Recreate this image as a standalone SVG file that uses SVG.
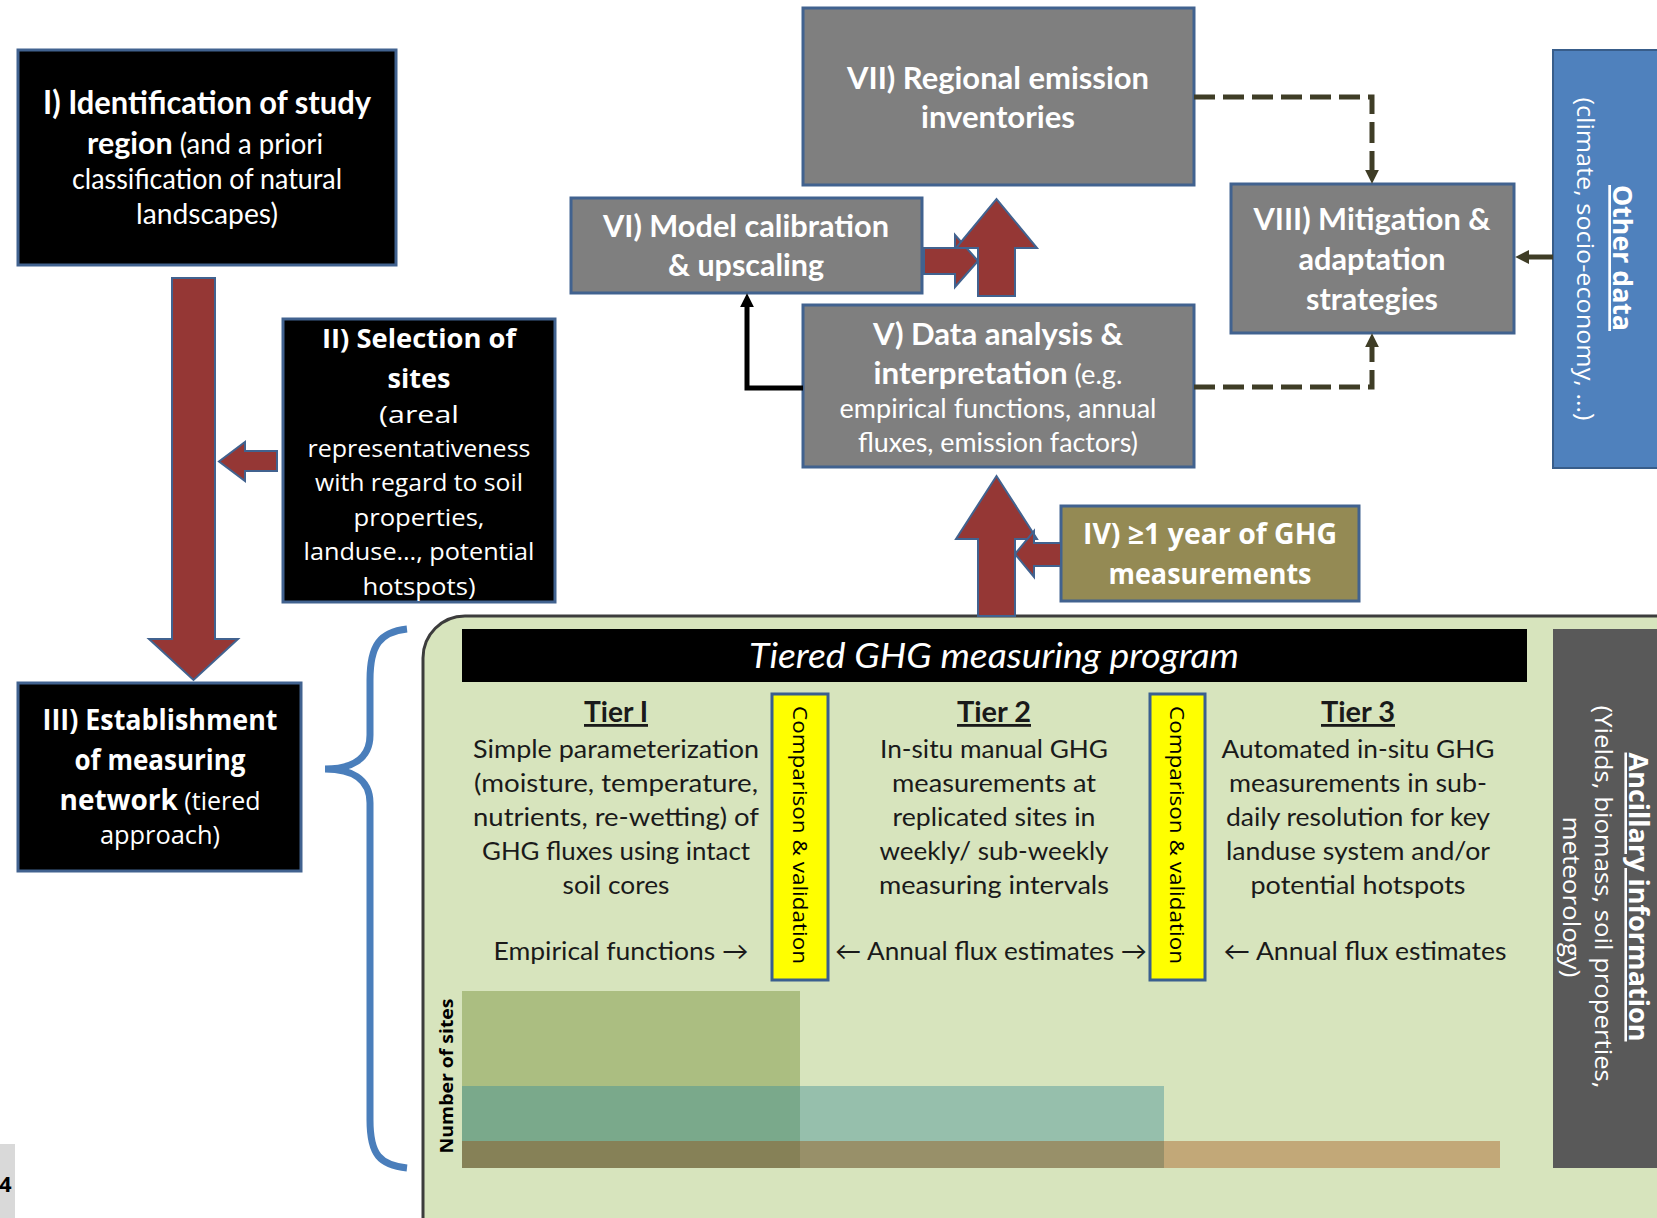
<svg xmlns="http://www.w3.org/2000/svg" width="1657" height="1218" viewBox="0 0 1657 1218">
<defs>
<style>
.cal{font-family:Lato,"Liberation Sans",sans-serif}
.os{font-family:"Open Sans","Liberation Sans",sans-serif}
.b{font-weight:bold}
.w{fill:#ffffff}
.k{fill:#1a1a1a}
.mid{text-anchor:middle}
.blk{fill:#000000;stroke:#41628f;stroke-width:3}
.gry{fill:#7f7f7f;stroke:#41628f;stroke-width:3}
.red{fill:#953735;stroke:#41628f;stroke-width:2;stroke-linejoin:miter}
.dash{fill:none;stroke:#3f3d26;stroke-width:5;stroke-dasharray:21 8}
.sol{fill:none;stroke:#3f3d26;stroke-width:5}
.ul{text-decoration:underline}
</style>
<marker id="ah" viewBox="0 0 10 10" refX="3" refY="5" markerWidth="14" markerHeight="14" markerUnits="userSpaceOnUse" orient="auto">
<path d="M0,0 L10,5 L0,10 z" fill="#3f3d26"/>
</marker>
<marker id="ahk" viewBox="0 0 10 10" refX="3" refY="5" markerWidth="14" markerHeight="14" markerUnits="userSpaceOnUse" orient="auto">
<path d="M0,0 L10,5 L0,10 z" fill="#000000"/>
</marker>
</defs>
<rect x="0" y="0" width="1657" height="1218" fill="#ffffff"/>

<!-- page number tab -->
<g id="page-tab">
<rect x="0" y="1144" width="15" height="74" fill="#d9d9d9"/>
<text x="-1" y="1192" class="os b" font-size="22" fill="#000">4</text>
</g>

<!-- tiered program panel -->
<g id="tiered-program">
<rect x="423" y="616" width="1300" height="700" rx="42" fill="#d7e4bd" stroke="#3c3c3c" stroke-width="3"/>
<rect x="462" y="629" width="1065" height="53" fill="#000000"/>
<text x="994" y="668" class="cal w mid" font-size="34" font-style="italic" textLength="490" lengthAdjust="spacingAndGlyphs">Tiered GHG measuring program</text>
</g>

<g id="bars">
<rect x="462" y="991" width="338" height="95" fill="#abbe81"/>
<rect x="462" y="1086" width="338" height="55" fill="#7aa98b"/>
<rect x="800" y="1086" width="364" height="55" fill="#96bfac"/>
<rect x="462" y="1141" width="338" height="27" fill="#868157"/>
<rect x="800" y="1141" width="364" height="27" fill="#989069"/>
<rect x="1164" y="1141" width="336" height="27" fill="#c2a878"/>
<text transform="translate(453,1076) rotate(-90)" class="os b mid" font-size="17" fill="#000" textLength="155" lengthAdjust="spacingAndGlyphs">Number of sites</text>
</g>

<g id="tier1">
<text x="616" y="722" class="cal b k mid ul" font-size="28" textLength="64" lengthAdjust="spacingAndGlyphs">Tier I</text>
<text x="616" y="758" class="cal k mid" font-size="25" textLength="286" lengthAdjust="spacingAndGlyphs">Simple parameterization</text>
<text x="616" y="792" class="cal k mid" font-size="25" textLength="284" lengthAdjust="spacingAndGlyphs">(moisture, temperature,</text>
<text x="616" y="826" class="cal k mid" font-size="25" textLength="286" lengthAdjust="spacingAndGlyphs">nutrients, re-wetting)  of</text>
<text x="616" y="860" class="cal k mid" font-size="25" textLength="268" lengthAdjust="spacingAndGlyphs">GHG fluxes using intact</text>
<text x="616" y="894" class="cal k mid" font-size="25" textLength="107" lengthAdjust="spacingAndGlyphs">soil cores</text>
<text x="621" y="960" class="cal k mid" font-size="25" textLength="255" lengthAdjust="spacingAndGlyphs">Empirical functions →</text>
</g>

<g id="tier2">
<text x="994" y="722" class="cal b k mid ul" font-size="28" textLength="74" lengthAdjust="spacingAndGlyphs">Tier 2</text>
<text x="994" y="758" class="cal k mid" font-size="25" textLength="228" lengthAdjust="spacingAndGlyphs">In-situ manual GHG</text>
<text x="994" y="792" class="cal k mid" font-size="25" textLength="204" lengthAdjust="spacingAndGlyphs">measurements at</text>
<text x="994" y="826" class="cal k mid" font-size="25" textLength="203" lengthAdjust="spacingAndGlyphs">replicated sites in</text>
<text x="994" y="860" class="cal k mid" font-size="25" textLength="229" lengthAdjust="spacingAndGlyphs">weekly/ sub-weekly</text>
<text x="994" y="894" class="cal k mid" font-size="25" textLength="230" lengthAdjust="spacingAndGlyphs">measuring intervals</text>
<text x="991" y="960" class="cal k mid" font-size="25" textLength="312" lengthAdjust="spacingAndGlyphs">← Annual flux estimates →</text>
</g>

<g id="tier3">
<text x="1358" y="722" class="cal b k mid ul" font-size="28" textLength="74" lengthAdjust="spacingAndGlyphs">Tier 3</text>
<text x="1358" y="758" class="cal k mid" font-size="25" textLength="273" lengthAdjust="spacingAndGlyphs">Automated in-situ GHG</text>
<text x="1358" y="792" class="cal k mid" font-size="25" textLength="258" lengthAdjust="spacingAndGlyphs">measurements in sub-</text>
<text x="1358" y="826" class="cal k mid" font-size="25" textLength="264" lengthAdjust="spacingAndGlyphs">daily resolution for key</text>
<text x="1358" y="860" class="cal k mid" font-size="25" textLength="264" lengthAdjust="spacingAndGlyphs">landuse system and/or</text>
<text x="1358" y="894" class="cal k mid" font-size="25" textLength="215" lengthAdjust="spacingAndGlyphs">potential hotspots</text>
<text x="1365" y="960" class="cal k mid" font-size="25" textLength="283" lengthAdjust="spacingAndGlyphs">← Annual flux estimates</text>
</g>

<g id="comparison-1">
<rect x="772" y="694" width="56" height="286" fill="#ffff00" stroke="#3a5f8f" stroke-width="3"/>
<text transform="translate(793,835) rotate(90)" class="os mid" font-size="20" fill="#000" textLength="258" lengthAdjust="spacingAndGlyphs">Comparison &amp; validation</text>
</g>
<g id="comparison-2">
<rect x="1150" y="694" width="55" height="286" fill="#ffff00" stroke="#3a5f8f" stroke-width="3"/>
<text transform="translate(1170,835) rotate(90)" class="os mid" font-size="20" fill="#000" textLength="258" lengthAdjust="spacingAndGlyphs">Comparison &amp; validation</text>
</g>

<g id="ancillary">
<rect x="1553" y="629" width="120" height="539" fill="#595959"/>
<text transform="translate(1629,897) rotate(90)" class="os b w mid ul" font-size="26" textLength="289" lengthAdjust="spacingAndGlyphs">Ancillary information</text>
<text transform="translate(1595,897) rotate(90)" class="os w mid" font-size="24" textLength="383" lengthAdjust="spacingAndGlyphs">(Yields, biomass, soil properties,</text>
<text transform="translate(1563,897) rotate(90)" class="os w mid" font-size="24" textLength="161" lengthAdjust="spacingAndGlyphs">meteorology)</text>
</g>

<g id="other-data">
<rect x="1553" y="50" width="120" height="418" fill="#4f81bd" stroke="#385d8a" stroke-width="2"/>
<text transform="translate(1613,258) rotate(90)" class="os b w mid ul" font-size="27" textLength="146" lengthAdjust="spacingAndGlyphs">Other data</text>
<text transform="translate(1577,259) rotate(90)" class="os w mid" font-size="24" textLength="323" lengthAdjust="spacingAndGlyphs">(climate, socio-economy, …)</text>
</g>

<!-- brace -->
<g id="brace">
<path d="M407,629 C380,632 370,645 370,680 L370,735 C370,760 350,769 325,769 C350,769 370,778 370,803 L370,1120 C370,1155 380,1165 407,1168" fill="none" stroke="#4a7ebb" stroke-width="7"/>
</g>

<g id="node-I">
<rect x="18" y="50" width="378" height="215" class="blk"/>
<text x="207" y="114" class="cal b w mid" font-size="32" textLength="328" lengthAdjust="spacingAndGlyphs">I) Identification of study</text>
<text x="205" y="154" class="cal w mid" font-size="28" textLength="236" lengthAdjust="spacingAndGlyphs"><tspan font-weight="bold" font-size="31">region</tspan> (and a priori</text>
<text x="207" y="189" class="cal w mid" font-size="28" textLength="270" lengthAdjust="spacingAndGlyphs">classification of natural</text>
<text x="207" y="224" class="cal w mid" font-size="28" textLength="142" lengthAdjust="spacingAndGlyphs">landscapes)</text>
</g>

<g id="node-II">
<rect x="283" y="319" width="272" height="283" class="blk"/>
<text x="419" y="348" class="os b w mid" font-size="27" textLength="194" lengthAdjust="spacingAndGlyphs">II) Selection of</text>
<text x="419" y="388" class="os b w mid" font-size="27" textLength="63" lengthAdjust="spacingAndGlyphs">sites</text>
<text x="419" y="423" class="os w mid" font-size="24" textLength="80" lengthAdjust="spacingAndGlyphs">(areal</text>
<text x="419" y="457" class="os w mid" font-size="24" textLength="223" lengthAdjust="spacingAndGlyphs">representativeness</text>
<text x="419" y="491" class="os w mid" font-size="24" textLength="208" lengthAdjust="spacingAndGlyphs">with regard to soil</text>
<text x="419" y="526" class="os w mid" font-size="24" textLength="131" lengthAdjust="spacingAndGlyphs">properties,</text>
<text x="419" y="560" class="os w mid" font-size="24" textLength="231" lengthAdjust="spacingAndGlyphs">landuse…, potential</text>
<text x="419" y="595" class="os w mid" font-size="24" textLength="113" lengthAdjust="spacingAndGlyphs">hotspots)</text>
</g>

<g id="node-III">
<rect x="18" y="683" width="283" height="188" class="blk"/>
<text x="160" y="730" class="os b w mid" font-size="28" textLength="235" lengthAdjust="spacingAndGlyphs">III) Establishment</text>
<text x="160" y="770" class="os b w mid" font-size="28" textLength="171" lengthAdjust="spacingAndGlyphs">of measuring</text>
<text x="160" y="810" class="os w mid" font-size="25" textLength="201" lengthAdjust="spacingAndGlyphs"><tspan font-weight="bold" font-size="28">network</tspan> (tiered</text>
<text x="160" y="844" class="os w mid" font-size="25" textLength="120" lengthAdjust="spacingAndGlyphs">approach)</text>
</g>

<g id="node-IV">
<rect x="1061" y="506" width="298" height="95" fill="#948a54" stroke="#41628f" stroke-width="3"/>
<text x="1210" y="544" class="os b w mid" font-size="28" textLength="254" lengthAdjust="spacingAndGlyphs">IV) ≥1 year of GHG</text>
<text x="1210" y="584" class="os b w mid" font-size="28" textLength="203" lengthAdjust="spacingAndGlyphs">measurements</text>
</g>

<g id="node-V">
<rect x="803" y="305" width="391" height="162" class="gry"/>
<text x="998" y="345" class="cal b w mid" font-size="31" textLength="250" lengthAdjust="spacingAndGlyphs">V) Data analysis &amp;</text>
<text x="998" y="384" class="cal w mid" font-size="27" textLength="249" lengthAdjust="spacingAndGlyphs"><tspan font-weight="bold" font-size="31">interpretation</tspan> (e.g.</text>
<text x="998" y="418" class="cal w mid" font-size="27" textLength="317" lengthAdjust="spacingAndGlyphs">empirical functions, annual</text>
<text x="998" y="452" class="cal w mid" font-size="27" textLength="280" lengthAdjust="spacingAndGlyphs">fluxes, emission factors)</text>
</g>

<g id="node-VI">
<rect x="571" y="198" width="351" height="95" class="gry"/>
<text x="746" y="237" class="cal b w mid" font-size="31" textLength="286" lengthAdjust="spacingAndGlyphs">VI) Model calibration</text>
<text x="746" y="276" class="cal b w mid" font-size="31" textLength="156" lengthAdjust="spacingAndGlyphs">&amp; upscaling</text>
</g>

<g id="node-VII">
<rect x="803" y="8" width="391" height="177" class="gry"/>
<text x="998" y="89" class="cal b w mid" font-size="31" textLength="302" lengthAdjust="spacingAndGlyphs">VII) Regional emission</text>
<text x="998" y="128" class="cal b w mid" font-size="31" textLength="154" lengthAdjust="spacingAndGlyphs">inventories</text>
</g>

<g id="node-VIII">
<rect x="1231" y="184" width="283" height="149" class="gry"/>
<text x="1372" y="230" class="cal b w mid" font-size="31" textLength="237" lengthAdjust="spacingAndGlyphs">VIII) Mitigation &amp;</text>
<text x="1372" y="270" class="cal b w mid" font-size="31" textLength="147" lengthAdjust="spacingAndGlyphs">adaptation</text>
<text x="1372" y="310" class="cal b w mid" font-size="31" textLength="132" lengthAdjust="spacingAndGlyphs">strategies</text>
</g>

<g id="connectors">
<path class="red" d="M172,278 L215,278 L215,639 L238,639 L193.5,680 L149,639 L172,639 Z"/>
<path class="red" d="M277,451 L245,451 L245,442 L219,461.5 L245,481 L245,471 L277,471 Z"/>
<path class="red" d="M924,248 L955,248 L955,235 L978,261 L955,287 L955,274 L924,274 Z"/>
<path class="red" d="M978,296 L1015,296 L1015,248 L1037,248 L996.5,199 L956,248 L978,248 Z"/>
<path class="red" d="M978,616 L1015,616 L1015,539 L1037,539 L996.5,476 L956,539 L978,539 Z"/>
<path class="red" d="M1061,543 L1034,543 L1034,531 L1015,554 L1034,577 L1034,566 L1061,566 Z"/>
<path d="M803,388 H747 V303" fill="none" stroke="#000" stroke-width="5" marker-end="url(#ahk)"/>
<path class="dash" d="M1194,97 H1372 V174" marker-end="url(#ah)"/>
<path class="dash" d="M1194,387 H1372 V343" marker-end="url(#ah)"/>
<path class="sol" d="M1553,257 H1525" marker-end="url(#ah)"/>
</g>
</svg>
